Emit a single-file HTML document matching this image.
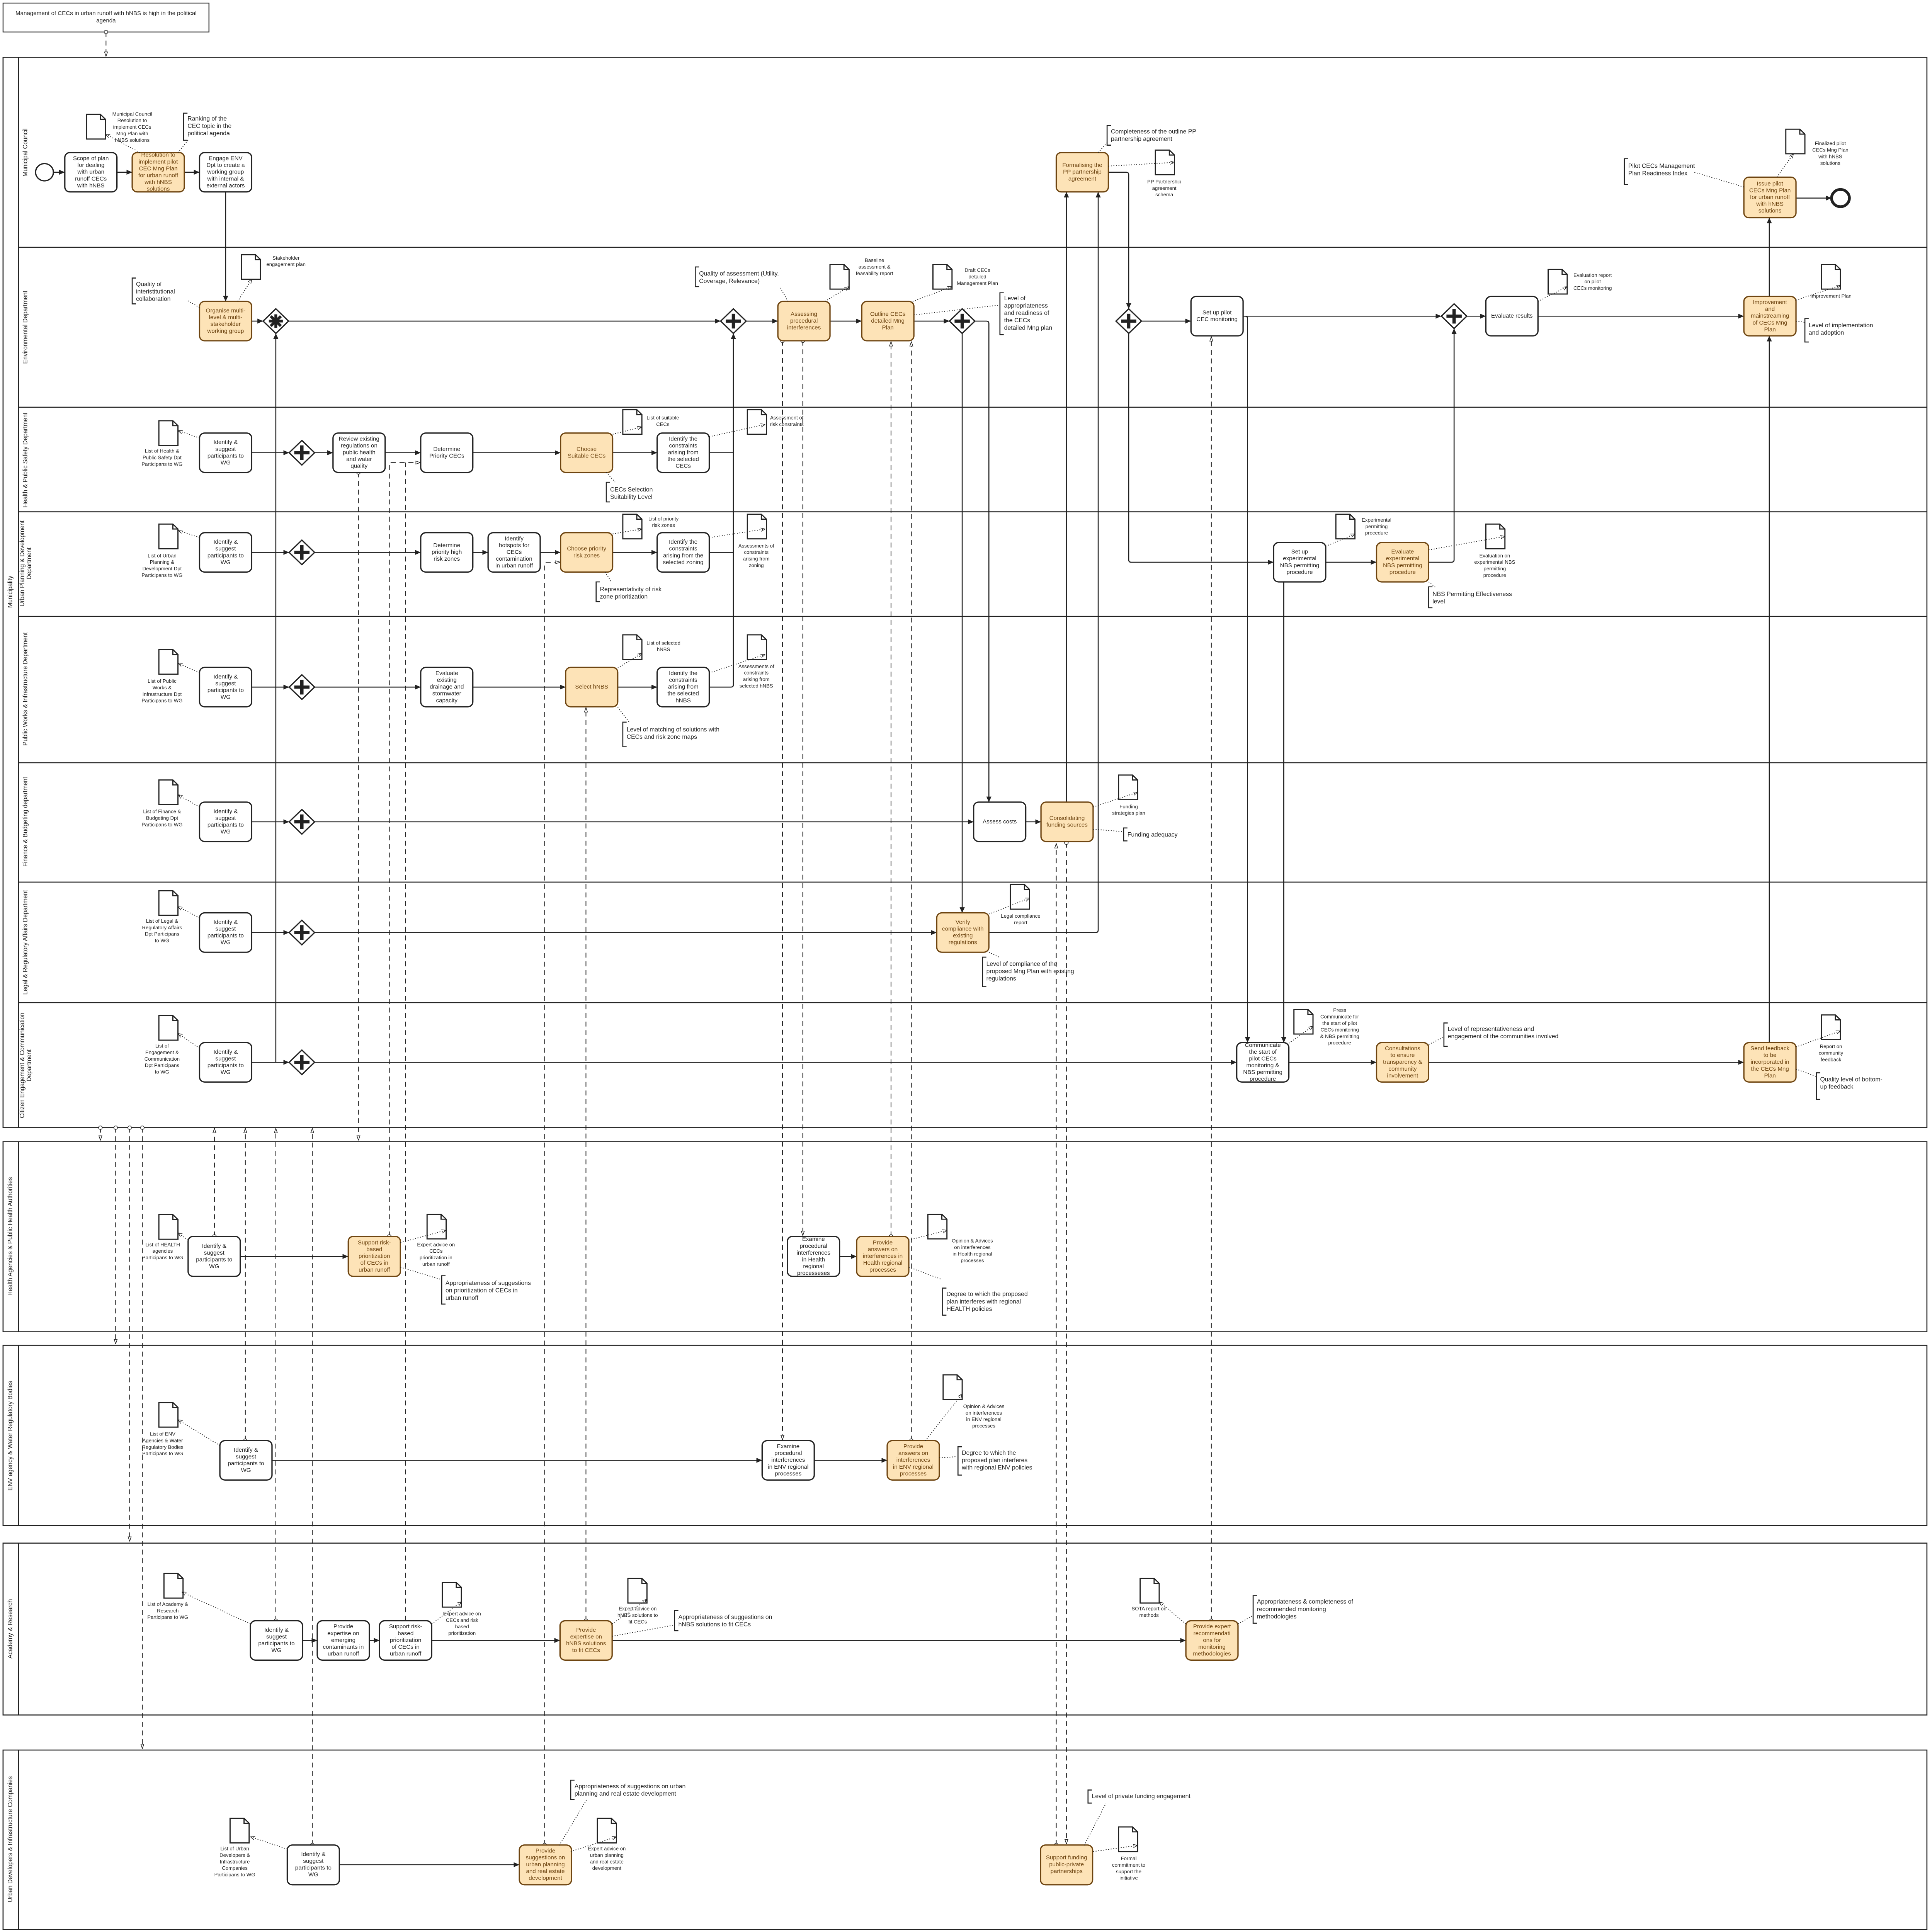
<!DOCTYPE html>
<html><head><meta charset="utf-8">
<style>
html,body{margin:0;padding:0;background:#fff;width:100%;height:100%;overflow:hidden}
svg{display:block;width:100vw;height:100vh}
.w{fill:#fff;stroke:#222;stroke-width:1}
.o{fill:#fde3b7;stroke:#6e4511;stroke-width:1}
.tt{font-family:"Liberation Sans",sans-serif;font-size:4.6px;text-anchor:middle;dominant-baseline:central;fill:#222}
.ot{font-family:"Liberation Sans",sans-serif;font-size:4.6px;text-anchor:middle;dominant-baseline:central;fill:#6e4511}
.f{fill:none;stroke:#222;stroke-width:.8}
.m{fill:none;stroke:#222;stroke-width:.6;stroke-dasharray:4 3}
.d{fill:none;stroke:#222;stroke-width:.6;stroke-dasharray:.7 1.3}
.pl{fill:none;stroke:#222;stroke-width:.8}
.dc{fill:#fff;stroke:#222;stroke-width:.9}
.cap{font-family:"Liberation Sans",sans-serif;font-size:4px;text-anchor:middle;fill:#222}
.an{font-family:"Liberation Sans",sans-serif;font-size:4.8px;fill:#222}
.br{fill:none;stroke:#222;stroke-width:.8}
.ll{font-family:"Liberation Sans",sans-serif;font-size:5px;text-anchor:middle;fill:#222}
.g{fill:#fff;stroke:#222;stroke-width:1}
.gp{stroke:#222;stroke-width:2.6;fill:none}
</style></head><body>
<svg xmlns="http://www.w3.org/2000/svg" viewBox="0 0 1520 1570.4" preserveAspectRatio="none">
<defs>
<marker id="a" viewBox="0 0 10 10" refX="10" refY="5" markerWidth="4.5" markerHeight="4.5" markerUnits="userSpaceOnUse" orient="auto"><path d="M0 0.5L10 5L0 9.5z" fill="#222"/></marker>
<marker id="t" viewBox="0 0 10 10" refX="10" refY="5" markerWidth="4" markerHeight="4" markerUnits="userSpaceOnUse" orient="auto"><path d="M0.5 2L9.5 5L0.5 8z" fill="#fff" stroke="#222" stroke-width="1.2"/></marker>
<marker id="c" viewBox="0 0 10 10" refX="5" refY="5" markerWidth="3.6" markerHeight="3.6" markerUnits="userSpaceOnUse" orient="auto"><circle cx="5" cy="5" r="4" fill="#fff" stroke="#222" stroke-width="1.3"/></marker>
<marker id="v" viewBox="0 0 10 10" refX="10" refY="5" markerWidth="3.5" markerHeight="3.5" markerUnits="userSpaceOnUse" orient="auto"><path d="M0 1L10 5L0 9" fill="none" stroke="#222" stroke-width="1.3"/></marker>
</defs>
<rect x="0" y="0" width="1520" height="1570.4" fill="#fff"/>

<rect x="2.4" y="2.5" width="162" height="23.5" fill="#fff" stroke="#222" stroke-width=".7"/>
<text class="tt" x="83.4" y="11">Management of CECs in urban runoff with hNBS is high in the political</text>
<text class="tt" x="83.4" y="17">agenda</text>
<path class="m" d="M83.4 26V46" marker-start="url(#c)" marker-end="url(#t)"/>

<rect x="2.4" y="46.6" width="1513.6" height="870" fill="none" stroke="#222" stroke-width=".8"/>
<path class="pl" d="M14.5 46.6V916.6M14.5 201H1516M14.5 331H1516M14.5 416H1516M14.5 501H1516M14.5 620H1516M14.5 717H1516M14.5 815H1516"/>
<text class="ll" transform="translate(9.5,481) rotate(-90)">Municipality</text>
<text class="ll" transform="translate(21.5,124) rotate(-90)">Municipal Council</text>
<text class="ll" transform="translate(21.5,266) rotate(-90)">Environmental Department</text>
<text class="ll" transform="translate(21.5,374) rotate(-90)">Health &amp; Public Safety Department</text>
<text class="ll" transform="translate(19,458) rotate(-90)">Urban Planning &amp; Development</text>
<text class="ll" transform="translate(24.5,458) rotate(-90)">Department</text>
<text class="ll" transform="translate(21.5,560) rotate(-90)">Public Works &amp; Infrastructure Department</text>
<text class="ll" transform="translate(21.5,668) rotate(-90)">Finance &amp; Budgeting department</text>
<text class="ll" transform="translate(21.5,766) rotate(-90)">Legal &amp; Regulatory Affairs Department</text>
<text class="ll" transform="translate(19,866) rotate(-90)">Citizen Engagement &amp; Communication</text>
<text class="ll" transform="translate(24.5,866) rotate(-90)">Department</text>

<rect x="2.4" y="928" width="1513.6" height="154.5" fill="none" stroke="#222" stroke-width=".8"/>
<path class="pl" d="M14.5 928V1082.5"/>
<text class="ll" transform="translate(9.5,1005) rotate(-90)">Health Agencies &amp; Public Health Authorities</text>
<rect x="2.4" y="1093.5" width="1513.6" height="146.5" fill="none" stroke="#222" stroke-width=".8"/>
<path class="pl" d="M14.5 1093.5V1240"/>
<text class="ll" transform="translate(9.5,1167) rotate(-90)">ENV agency &amp; Water Regulatory Bodies</text>
<rect x="2.4" y="1254.3" width="1513.6" height="139.7" fill="none" stroke="#222" stroke-width=".8"/>
<path class="pl" d="M14.5 1254.3V1394"/>
<text class="ll" transform="translate(9.5,1324) rotate(-90)">Academy &amp; Research</text>
<rect x="2.4" y="1422.5" width="1513.6" height="145.9" fill="none" stroke="#222" stroke-width=".8"/>
<path class="pl" d="M14.5 1422.5V1568.4"/>
<text class="ll" transform="translate(9.5,1495) rotate(-90)">Urban Developers &amp; Infrastructure Companies</text>

<g class="f">
<path d="M42 140H51" marker-end="url(#a)"/>
<path d="M92 140H104" marker-end="url(#a)"/>
<path d="M145 140H157" marker-end="url(#a)"/>
<path d="M177.5 156V245" marker-end="url(#a)"/>
<path d="M198 261H207" marker-end="url(#a)"/>
<path d="M227 261H567" marker-end="url(#a)"/>
<path d="M587 261H612" marker-end="url(#a)"/>
<path d="M653 261H678" marker-end="url(#a)"/>
<path d="M719 261H747" marker-end="url(#a)"/>
<path d="M757 271V742" marker-end="url(#a)"/>
<path d="M767 261H776Q778 261 778 263V652" marker-end="url(#a)"/>
<path d="M217 863.5V271" marker-end="url(#a)"/>
<path d="M198 368H227.5" marker-end="url(#a)"/>
<path d="M247.5 368H262" marker-end="url(#a)"/>
<path d="M303 368H331" marker-end="url(#a)"/>
<path d="M372 368H441" marker-end="url(#a)"/>
<path d="M482 368H517" marker-end="url(#a)"/>
<path d="M558 368H577"/>
<path d="M198 449H227.5" marker-end="url(#a)"/>
<path d="M247.5 449H331" marker-end="url(#a)"/>
<path d="M372 449H384" marker-end="url(#a)"/>
<path d="M425 449H441" marker-end="url(#a)"/>
<path d="M482 449H517" marker-end="url(#a)"/>
<path d="M558 449H577"/>
<path d="M198 558.5H227.5" marker-end="url(#a)"/>
<path d="M247.5 558.5H331" marker-end="url(#a)"/>
<path d="M372 558.5H445" marker-end="url(#a)"/>
<path d="M486 558.5H517" marker-end="url(#a)"/>
<path d="M558 558.5H575Q577 558.5 577 556.5V271" marker-end="url(#a)"/>
<path d="M198 668H227.5" marker-end="url(#a)"/>
<path d="M247.5 668H766" marker-end="url(#a)"/>
<path d="M807 668H819" marker-end="url(#a)"/>
<path d="M198 758H227.5" marker-end="url(#a)"/>
<path d="M247.5 758H737" marker-end="url(#a)"/>
<path d="M778 758H862Q864 758 864 756V156" marker-end="url(#a)"/>
<path d="M839 652V156" marker-end="url(#a)"/>
<path d="M198 863.5H227.5" marker-end="url(#a)"/>
<path d="M247.5 863.5H973" marker-end="url(#a)"/>
<path d="M1014 863.5H1083" marker-end="url(#a)"/>
<path d="M1124 863.5H1372" marker-end="url(#a)"/>
<path d="M872 140H886Q888 140 888 142V251" marker-end="url(#a)"/>
<path d="M898 261H937" marker-end="url(#a)"/>
<path d="M888 271V455Q888 457 890 457H1002" marker-end="url(#a)"/>
<path d="M978 257H1134" marker-end="url(#a)"/>
<path d="M978 257H979.5Q981.5 257 981.5 259V847.5" marker-end="url(#a)"/>
<path d="M1010 473V847.5" marker-end="url(#a)"/>
<path d="M1043 457H1083" marker-end="url(#a)"/>
<path d="M1124 457H1142Q1144 457 1144 455V267" marker-end="url(#a)"/>
<path d="M1154 257H1169" marker-end="url(#a)"/>
<path d="M1210 257H1372" marker-end="url(#a)"/>
<path d="M1392 847.5V273" marker-end="url(#a)"/>
<path d="M1392 241V177" marker-end="url(#a)"/>
<path d="M1413 161H1441" marker-end="url(#a)"/>
<path d="M189 1021.3H274" marker-end="url(#a)"/>
<path d="M660 1021.3H674" marker-end="url(#a)"/>
<path d="M214 1187H599.6" marker-end="url(#a)"/>
<path d="M640.6 1187H698" marker-end="url(#a)"/>
<path d="M238 1333.4H249.6" marker-end="url(#a)"/>
<path d="M290.6 1333.4H298.6" marker-end="url(#a)"/>
<path d="M339.6 1333.4H440.6" marker-end="url(#a)"/>
<path d="M481.6 1333.4H933" marker-end="url(#a)"/>
<path d="M267 1515.7H408.6" marker-end="url(#a)"/>
</g>

<g class="m">
<path d="M79 916.6V927" marker-start="url(#c)" marker-end="url(#t)"/>
<path d="M91 916.6V1092.5" marker-start="url(#c)" marker-end="url(#t)"/>
<path d="M102 916.6V1253" marker-start="url(#c)" marker-end="url(#t)"/>
<path d="M112 916.6V1421.5" marker-start="url(#c)" marker-end="url(#t)"/>
<path d="M168.7 1005V917" marker-start="url(#c)" marker-end="url(#t)"/>
<path d="M193 1171V917" marker-start="url(#c)" marker-end="url(#t)"/>
<path d="M217 1317.4V917" marker-start="url(#c)" marker-end="url(#t)"/>
<path d="M245.7 1499.7V917" marker-start="url(#c)" marker-end="url(#t)"/>
<path d="M282 384V927" marker-start="url(#c)" marker-end="url(#t)"/>
<path d="M306.3 1005V376H331" marker-start="url(#c)" marker-end="url(#t)"/>
<path d="M319 1317.4V376"/>
<path d="M428.5 1499.7V458Q428.5 457 430 457H441" marker-start="url(#c)" marker-end="url(#t)"/>
<path d="M461 1317.4V575" marker-start="url(#c)" marker-end="url(#t)"/>
<path d="M615.6 277V1170.5" marker-start="url(#c)" marker-end="url(#t)"/>
<path d="M631.6 277V1004.5" marker-start="url(#c)" marker-end="url(#t)"/>
<path d="M701 1005V277.5" marker-start="url(#c)" marker-end="url(#t)"/>
<path d="M717 1171V277.5" marker-start="url(#c)" marker-end="url(#t)"/>
<path d="M839 685V1499" marker-start="url(#c)" marker-end="url(#t)"/>
<path d="M831 1499.7V685.5" marker-start="url(#c)" marker-end="url(#t)"/>
<path d="M953 1317.4V273.5" marker-start="url(#c)" marker-end="url(#t)"/>
</g>

<circle cx="35" cy="140" r="7" fill="#fff" stroke="#222" stroke-width="1"/>
<circle cx="1448" cy="161" r="7" fill="#fff" stroke="#222" stroke-width="2.2"/>

<g>
<g transform="translate(217,261)"><path class="g" d="M0-10L10 0 0 10-10 0Z"/><path d="M0-5.5V5.5M-5.5 0H5.5M-4-4L4 4M-4 4L4-4" stroke="#222" stroke-width="2.2"/></g>
<g transform="translate(577,261)"><path class="g" d="M0-10L10 0 0 10-10 0Z"/><path class="gp" d="M0-6V6M-6 0H6"/></g>
<g transform="translate(757,261)"><path class="g" d="M0-10L10 0 0 10-10 0Z"/><path class="gp" d="M0-6V6M-6 0H6"/></g>
<g transform="translate(888,261)"><path class="g" d="M0-10L10 0 0 10-10 0Z"/><path class="gp" d="M0-6V6M-6 0H6"/></g>
<g transform="translate(1144,257)"><path class="g" d="M0-10L10 0 0 10-10 0Z"/><path class="gp" d="M0-6V6M-6 0H6"/></g>
<g transform="translate(237.5,368)"><path class="g" d="M0-10L10 0 0 10-10 0Z"/><path class="gp" d="M0-6V6M-6 0H6"/></g>
<g transform="translate(237.5,449)"><path class="g" d="M0-10L10 0 0 10-10 0Z"/><path class="gp" d="M0-6V6M-6 0H6"/></g>
<g transform="translate(237.5,558.5)"><path class="g" d="M0-10L10 0 0 10-10 0Z"/><path class="gp" d="M0-6V6M-6 0H6"/></g>
<g transform="translate(237.5,668)"><path class="g" d="M0-10L10 0 0 10-10 0Z"/><path class="gp" d="M0-6V6M-6 0H6"/></g>
<g transform="translate(237.5,758)"><path class="g" d="M0-10L10 0 0 10-10 0Z"/><path class="gp" d="M0-6V6M-6 0H6"/></g>
<g transform="translate(237.5,863.5)"><path class="g" d="M0-10L10 0 0 10-10 0Z"/><path class="gp" d="M0-6V6M-6 0H6"/></g>
</g>

<rect class="w" x="51" y="124" width="41" height="32" rx="4"/>
<text class="tt" x="71.5" y="140"><tspan x="71.5" dy="-2.4em">Scope of plan</tspan><tspan x="71.5" dy="1.2em">for dealing</tspan><tspan x="71.5" dy="1.2em">with urban</tspan><tspan x="71.5" dy="1.2em">runoff CECs</tspan><tspan x="71.5" dy="1.2em">with hNBS</tspan></text>
<rect class="o" x="104" y="124" width="41" height="32" rx="4"/>
<text class="ot" x="124.5" y="140"><tspan x="124.5" dy="-3em">Resolution to</tspan><tspan x="124.5" dy="1.2em">implement pilot</tspan><tspan x="124.5" dy="1.2em">CEC Mng Plan</tspan><tspan x="124.5" dy="1.2em">for urban runoff</tspan><tspan x="124.5" dy="1.2em">with hNBS</tspan><tspan x="124.5" dy="1.2em">solutions</tspan></text>
<rect class="w" x="157" y="124" width="41" height="32" rx="4"/>
<text class="tt" x="177.5" y="140"><tspan x="177.5" dy="-2.4em">Engage ENV</tspan><tspan x="177.5" dy="1.2em">Dpt to create a</tspan><tspan x="177.5" dy="1.2em">working group</tspan><tspan x="177.5" dy="1.2em">with internal &amp;</tspan><tspan x="177.5" dy="1.2em">external actors</tspan></text>
<rect class="o" x="831" y="124" width="41" height="32" rx="4"/>
<text class="ot" x="851.5" y="140"><tspan x="851.5" dy="-1.2em">Formalising the</tspan><tspan x="851.5" dy="1.2em">PP partnership</tspan><tspan x="851.5" dy="1.2em">agreement</tspan></text>
<rect class="o" x="1372" y="144" width="41" height="33" rx="4"/>
<text class="ot" x="1392.5" y="160.5"><tspan x="1392.5" dy="-2.4em">Issue pilot</tspan><tspan x="1392.5" dy="1.2em">CECs Mng Plan</tspan><tspan x="1392.5" dy="1.2em">for urban runoff</tspan><tspan x="1392.5" dy="1.2em">with hNBS</tspan><tspan x="1392.5" dy="1.2em">solutions</tspan></text>

<rect class="o" x="157" y="245" width="41" height="32" rx="4"/>
<text class="ot" x="177.5" y="261"><tspan x="177.5" dy="-1.8em">Organise multi-</tspan><tspan x="177.5" dy="1.2em">level &amp; multi-</tspan><tspan x="177.5" dy="1.2em">stakeholder</tspan><tspan x="177.5" dy="1.2em">working group</tspan></text>
<rect class="o" x="612" y="245" width="41" height="32" rx="4"/>
<text class="ot" x="632.5" y="261"><tspan x="632.5" dy="-1.2em">Assessing</tspan><tspan x="632.5" dy="1.2em">procedural</tspan><tspan x="632.5" dy="1.2em">interferences</tspan></text>
<rect class="o" x="678" y="245" width="41" height="32" rx="4"/>
<text class="ot" x="698.5" y="261"><tspan x="698.5" dy="-1.2em">Outline CECs</tspan><tspan x="698.5" dy="1.2em">detailed Mng</tspan><tspan x="698.5" dy="1.2em">Plan</tspan></text>
<rect class="w" x="937" y="241" width="41" height="32" rx="4"/>
<text class="tt" x="957.5" y="257"><tspan x="957.5" dy="-0.6em">Set up pilot</tspan><tspan x="957.5" dy="1.2em">CEC monitoring</tspan></text>
<rect class="w" x="1169" y="241" width="41" height="32" rx="4"/>
<text class="tt" x="1189.5" y="257">Evaluate results</text>
<rect class="o" x="1372" y="241" width="41" height="32" rx="4"/>
<text class="ot" x="1392.5" y="257"><tspan x="1392.5" dy="-2.4em">Improvement</tspan><tspan x="1392.5" dy="1.2em">and</tspan><tspan x="1392.5" dy="1.2em">mainstreaming</tspan><tspan x="1392.5" dy="1.2em">of CECs Mng</tspan><tspan x="1392.5" dy="1.2em">Plan</tspan></text>

<g>
<rect class="w" x="157" y="352" width="41" height="32" rx="4"/>
<text class="tt" x="177.5" y="368"><tspan x="177.5" dy="-1.8em">Identify &amp;</tspan><tspan x="177.5" dy="1.2em">suggest</tspan><tspan x="177.5" dy="1.2em">participants to</tspan><tspan x="177.5" dy="1.2em">WG</tspan></text>
<rect class="w" x="157" y="433" width="41" height="32" rx="4"/>
<text class="tt" x="177.5" y="449"><tspan x="177.5" dy="-1.8em">Identify &amp;</tspan><tspan x="177.5" dy="1.2em">suggest</tspan><tspan x="177.5" dy="1.2em">participants to</tspan><tspan x="177.5" dy="1.2em">WG</tspan></text>
<rect class="w" x="157" y="542.5" width="41" height="32" rx="4"/>
<text class="tt" x="177.5" y="558.5"><tspan x="177.5" dy="-1.8em">Identify &amp;</tspan><tspan x="177.5" dy="1.2em">suggest</tspan><tspan x="177.5" dy="1.2em">participants to</tspan><tspan x="177.5" dy="1.2em">WG</tspan></text>
<rect class="w" x="157" y="652" width="41" height="32" rx="4"/>
<text class="tt" x="177.5" y="668"><tspan x="177.5" dy="-1.8em">Identify &amp;</tspan><tspan x="177.5" dy="1.2em">suggest</tspan><tspan x="177.5" dy="1.2em">participants to</tspan><tspan x="177.5" dy="1.2em">WG</tspan></text>
<rect class="w" x="157" y="742" width="41" height="32" rx="4"/>
<text class="tt" x="177.5" y="758"><tspan x="177.5" dy="-1.8em">Identify &amp;</tspan><tspan x="177.5" dy="1.2em">suggest</tspan><tspan x="177.5" dy="1.2em">participants to</tspan><tspan x="177.5" dy="1.2em">WG</tspan></text>
<rect class="w" x="157" y="847.5" width="41" height="32" rx="4"/>
<text class="tt" x="177.5" y="863.5"><tspan x="177.5" dy="-1.8em">Identify &amp;</tspan><tspan x="177.5" dy="1.2em">suggest</tspan><tspan x="177.5" dy="1.2em">participants to</tspan><tspan x="177.5" dy="1.2em">WG</tspan></text>
</g>

<rect class="w" x="262" y="352" width="41" height="32" rx="4"/>
<text class="tt" x="282.5" y="368"><tspan x="282.5" dy="-2.4em">Review existing</tspan><tspan x="282.5" dy="1.2em">regulations on</tspan><tspan x="282.5" dy="1.2em">public health</tspan><tspan x="282.5" dy="1.2em">and water</tspan><tspan x="282.5" dy="1.2em">quality</tspan></text>
<rect class="w" x="331" y="352" width="41" height="32" rx="4"/>
<text class="tt" x="351.5" y="368"><tspan x="351.5" dy="-0.6em">Determine</tspan><tspan x="351.5" dy="1.2em">Priority CECs</tspan></text>
<rect class="o" x="441" y="352" width="41" height="32" rx="4"/>
<text class="ot" x="461.5" y="368"><tspan x="461.5" dy="-0.6em">Choose</tspan><tspan x="461.5" dy="1.2em">Suitable CECs</tspan></text>
<rect class="w" x="517" y="352" width="41" height="32" rx="4"/>
<text class="tt" x="537.5" y="368"><tspan x="537.5" dy="-2.4em">Identify the</tspan><tspan x="537.5" dy="1.2em">constraints</tspan><tspan x="537.5" dy="1.2em">arising from</tspan><tspan x="537.5" dy="1.2em">the selected</tspan><tspan x="537.5" dy="1.2em">CECs</tspan></text>

<rect class="w" x="331" y="433" width="41" height="32" rx="4"/>
<text class="tt" x="351.5" y="449"><tspan x="351.5" dy="-1.2em">Determine</tspan><tspan x="351.5" dy="1.2em">priority high</tspan><tspan x="351.5" dy="1.2em">risk zones</tspan></text>
<rect class="w" x="384" y="433" width="41" height="32" rx="4"/>
<text class="tt" x="404.5" y="449"><tspan x="404.5" dy="-2.4em">Identify</tspan><tspan x="404.5" dy="1.2em">hotspots for</tspan><tspan x="404.5" dy="1.2em">CECs</tspan><tspan x="404.5" dy="1.2em">contamination</tspan><tspan x="404.5" dy="1.2em">in urban runoff</tspan></text>
<rect class="o" x="441" y="433" width="41" height="32" rx="4"/>
<text class="ot" x="461.5" y="449"><tspan x="461.5" dy="-0.6em">Choose priority</tspan><tspan x="461.5" dy="1.2em">risk zones</tspan></text>
<rect class="w" x="517" y="433" width="41" height="32" rx="4"/>
<text class="tt" x="537.5" y="449"><tspan x="537.5" dy="-1.8em">Identify the</tspan><tspan x="537.5" dy="1.2em">constraints</tspan><tspan x="537.5" dy="1.2em">arising from the</tspan><tspan x="537.5" dy="1.2em">selected zoning</tspan></text>
<rect class="w" x="1002" y="441" width="41" height="32" rx="4"/>
<text class="tt" x="1022.5" y="457"><tspan x="1022.5" dy="-1.8em">Set up</tspan><tspan x="1022.5" dy="1.2em">experimental</tspan><tspan x="1022.5" dy="1.2em">NBS permitting</tspan><tspan x="1022.5" dy="1.2em">procedure</tspan></text>
<rect class="o" x="1083" y="441" width="41" height="32" rx="4"/>
<text class="ot" x="1103.5" y="457"><tspan x="1103.5" dy="-1.8em">Evaluate</tspan><tspan x="1103.5" dy="1.2em">experimental</tspan><tspan x="1103.5" dy="1.2em">NBS permitting</tspan><tspan x="1103.5" dy="1.2em">procedure</tspan></text>

<rect class="w" x="331" y="542.5" width="41" height="32" rx="4"/>
<text class="tt" x="351.5" y="558.5"><tspan x="351.5" dy="-2.4em">Evaluate</tspan><tspan x="351.5" dy="1.2em">existing</tspan><tspan x="351.5" dy="1.2em">drainage and</tspan><tspan x="351.5" dy="1.2em">stormwater</tspan><tspan x="351.5" dy="1.2em">capacity</tspan></text>
<rect class="o" x="445" y="542.5" width="41" height="32" rx="4"/>
<text class="ot" x="465.5" y="558.5">Select hNBS</text>
<rect class="w" x="517" y="542.5" width="41" height="32" rx="4"/>
<text class="tt" x="537.5" y="558.5"><tspan x="537.5" dy="-2.4em">Identify the</tspan><tspan x="537.5" dy="1.2em">constraints</tspan><tspan x="537.5" dy="1.2em">arising from</tspan><tspan x="537.5" dy="1.2em">the selected</tspan><tspan x="537.5" dy="1.2em">hNBS</tspan></text>

<rect class="w" x="766" y="652" width="41" height="32" rx="4"/>
<text class="tt" x="786.5" y="668">Assess costs</text>
<rect class="o" x="819" y="652" width="41" height="32" rx="4"/>
<text class="ot" x="839.5" y="668"><tspan x="839.5" dy="-0.6em">Consolidating</tspan><tspan x="839.5" dy="1.2em">funding sources</tspan></text>

<rect class="o" x="737" y="742" width="41" height="32" rx="4"/>
<text class="ot" x="757.5" y="758"><tspan x="757.5" dy="-1.8em">Verify</tspan><tspan x="757.5" dy="1.2em">compliance with</tspan><tspan x="757.5" dy="1.2em">existing</tspan><tspan x="757.5" dy="1.2em">regulations</tspan></text>

<rect class="w" x="973" y="847.5" width="41" height="32" rx="4"/>
<text class="tt" x="993.5" y="863.5"><tspan x="993.5" dy="-3em">Communicate</tspan><tspan x="993.5" dy="1.2em">the start of</tspan><tspan x="993.5" dy="1.2em">pilot CECs</tspan><tspan x="993.5" dy="1.2em">monitoring &amp;</tspan><tspan x="993.5" dy="1.2em">NBS permitting</tspan><tspan x="993.5" dy="1.2em">procedure</tspan></text>
<rect class="o" x="1083" y="847.5" width="41" height="32" rx="4"/>
<text class="ot" x="1103.5" y="863.5"><tspan x="1103.5" dy="-2.4em">Consultations</tspan><tspan x="1103.5" dy="1.2em">to ensure</tspan><tspan x="1103.5" dy="1.2em">transparency &amp;</tspan><tspan x="1103.5" dy="1.2em">community</tspan><tspan x="1103.5" dy="1.2em">involvement</tspan></text>
<rect class="o" x="1372" y="847.5" width="41" height="32" rx="4"/>
<text class="ot" x="1392.5" y="863.5"><tspan x="1392.5" dy="-2.4em">Send feedback</tspan><tspan x="1392.5" dy="1.2em">to be</tspan><tspan x="1392.5" dy="1.2em">incorporated in</tspan><tspan x="1392.5" dy="1.2em">the CECs Mng</tspan><tspan x="1392.5" dy="1.2em">Plan</tspan></text>

<rect class="w" x="148" y="1005" width="41" height="32.5" rx="4"/>
<text class="tt" x="168.5" y="1021.3"><tspan x="168.5" dy="-1.8em">Identify &amp;</tspan><tspan x="168.5" dy="1.2em">suggest</tspan><tspan x="168.5" dy="1.2em">participants to</tspan><tspan x="168.5" dy="1.2em">WG</tspan></text>
<rect class="o" x="274" y="1005" width="41" height="32.5" rx="4"/>
<text class="ot" x="294.5" y="1021.3"><tspan x="294.5" dy="-2.4em">Support risk-</tspan><tspan x="294.5" dy="1.2em">based</tspan><tspan x="294.5" dy="1.2em">prioritization</tspan><tspan x="294.5" dy="1.2em">of CECs in</tspan><tspan x="294.5" dy="1.2em">urban runoff</tspan></text>
<rect class="w" x="619.5" y="1005" width="41" height="32.5" rx="4"/>
<text class="tt" x="640" y="1021.3"><tspan x="640" dy="-3em">Examine</tspan><tspan x="640" dy="1.2em">procedural</tspan><tspan x="640" dy="1.2em">interferences</tspan><tspan x="640" dy="1.2em">in Health</tspan><tspan x="640" dy="1.2em">regional</tspan><tspan x="640" dy="1.2em">processeses</tspan></text>
<rect class="o" x="674" y="1005" width="41" height="32.5" rx="4"/>
<text class="ot" x="694.5" y="1021.3"><tspan x="694.5" dy="-2.4em">Provide</tspan><tspan x="694.5" dy="1.2em">answers on</tspan><tspan x="694.5" dy="1.2em">interferences in</tspan><tspan x="694.5" dy="1.2em">Health regional</tspan><tspan x="694.5" dy="1.2em">processes</tspan></text>

<rect class="w" x="173" y="1171" width="41" height="32" rx="4"/>
<text class="tt" x="193.5" y="1187"><tspan x="193.5" dy="-1.8em">Identify &amp;</tspan><tspan x="193.5" dy="1.2em">suggest</tspan><tspan x="193.5" dy="1.2em">participants to</tspan><tspan x="193.5" dy="1.2em">WG</tspan></text>
<rect class="w" x="599.6" y="1171" width="41" height="32" rx="4"/>
<text class="tt" x="620.1" y="1187"><tspan x="620.1" dy="-2.4em">Examine</tspan><tspan x="620.1" dy="1.2em">procedural</tspan><tspan x="620.1" dy="1.2em">interferences</tspan><tspan x="620.1" dy="1.2em">in ENV regional</tspan><tspan x="620.1" dy="1.2em">processes</tspan></text>
<rect class="o" x="698" y="1171" width="41" height="32" rx="4"/>
<text class="ot" x="718.5" y="1187"><tspan x="718.5" dy="-2.4em">Provide</tspan><tspan x="718.5" dy="1.2em">answers on</tspan><tspan x="718.5" dy="1.2em">interferences</tspan><tspan x="718.5" dy="1.2em">in ENV regional</tspan><tspan x="718.5" dy="1.2em">processes</tspan></text>

<rect class="w" x="197" y="1317.4" width="41" height="32" rx="4"/>
<text class="tt" x="217.5" y="1333.4"><tspan x="217.5" dy="-1.8em">Identify &amp;</tspan><tspan x="217.5" dy="1.2em">suggest</tspan><tspan x="217.5" dy="1.2em">participants to</tspan><tspan x="217.5" dy="1.2em">WG</tspan></text>
<rect class="w" x="249.6" y="1317.4" width="41" height="32" rx="4"/>
<text class="tt" x="270.1" y="1333.4"><tspan x="270.1" dy="-2.4em">Provide</tspan><tspan x="270.1" dy="1.2em">expertise on</tspan><tspan x="270.1" dy="1.2em">emerging</tspan><tspan x="270.1" dy="1.2em">contaminants in</tspan><tspan x="270.1" dy="1.2em">urban runoff</tspan></text>
<rect class="w" x="298.6" y="1317.4" width="41" height="32" rx="4"/>
<text class="tt" x="319.1" y="1333.4"><tspan x="319.1" dy="-2.4em">Support risk-</tspan><tspan x="319.1" dy="1.2em">based</tspan><tspan x="319.1" dy="1.2em">prioritization</tspan><tspan x="319.1" dy="1.2em">of CECs in</tspan><tspan x="319.1" dy="1.2em">urban runoff</tspan></text>
<rect class="o" x="440.6" y="1317.4" width="41" height="32" rx="4"/>
<text class="ot" x="461.1" y="1333.4"><tspan x="461.1" dy="-1.8em">Provide</tspan><tspan x="461.1" dy="1.2em">expertise on</tspan><tspan x="461.1" dy="1.2em">hNBS solutions</tspan><tspan x="461.1" dy="1.2em">to fit CECs</tspan></text>
<rect class="o" x="933" y="1317.4" width="41" height="32" rx="4"/>
<text class="ot" x="953.5" y="1333.4"><tspan x="953.5" dy="-2.4em">Provide expert</tspan><tspan x="953.5" dy="1.2em">recommendati</tspan><tspan x="953.5" dy="1.2em">ons for</tspan><tspan x="953.5" dy="1.2em">monitoring</tspan><tspan x="953.5" dy="1.2em">methodologies</tspan></text>

<rect class="w" x="226" y="1499.7" width="41" height="32.3" rx="4"/>
<text class="tt" x="246.5" y="1515.7"><tspan x="246.5" dy="-1.8em">Identify &amp;</tspan><tspan x="246.5" dy="1.2em">suggest</tspan><tspan x="246.5" dy="1.2em">participants to</tspan><tspan x="246.5" dy="1.2em">WG</tspan></text>
<rect class="o" x="408.6" y="1499.7" width="41" height="32.3" rx="4"/>
<text class="ot" x="429.1" y="1515.7"><tspan x="429.1" dy="-2.4em">Provide</tspan><tspan x="429.1" dy="1.2em">suggestions on</tspan><tspan x="429.1" dy="1.2em">urban planning</tspan><tspan x="429.1" dy="1.2em">and real estate</tspan><tspan x="429.1" dy="1.2em">development</tspan></text>
<rect class="o" x="818.6" y="1499.7" width="41" height="32.3" rx="4"/>
<text class="ot" x="839.1" y="1515.7"><tspan x="839.1" dy="-1.2em">Support funding</tspan><tspan x="839.1" dy="1.2em">public-private</tspan><tspan x="839.1" dy="1.2em">partnerships</tspan></text>

<g class="dc">
<path d="M68 93h11l4 4v16h-15zM79 93v4h4"/>
<path d="M190 207h11l4 4v16h-15zM201 207v4h4"/>
<path d="M653 215h11l4 4v16h-15zM664 215v4h4"/>
<path d="M734 215h11l4 4v16h-15zM745 215v4h4"/>
<path d="M125 342h11l4 4v16h-15zM136 342v4h4"/>
<path d="M490 333h11l4 4v16h-15zM501 333v4h4"/>
<path d="M588 333h11l4 4v16h-15zM599 333v4h4"/>
<path d="M125 426h11l4 4v16h-15zM136 426v4h4"/>
<path d="M490 418h11l4 4v16h-15zM501 418v4h4"/>
<path d="M588 418h11l4 4v16h-15zM599 418v4h4"/>
<path d="M125 528h11l4 4v16h-15zM136 528v4h4"/>
<path d="M490 516h11l4 4v16h-15zM501 516v4h4"/>
<path d="M588 516h11l4 4v16h-15zM599 516v4h4"/>
<path d="M125 634h11l4 4v16h-15zM136 634v4h4"/>
<path d="M125 724h11l4 4v16h-15zM136 724v4h4"/>
<path d="M125 825.5h11l4 4v16h-15zM136 825.5v4h4"/>
<path d="M909 122h11l4 4v16h-15zM920 122v4h4"/>
<path d="M1405 105h11l4 4v16h-15zM1416 105v4h4"/>
<path d="M1218 219h11l4 4v16h-15zM1229 219v4h4"/>
<path d="M1433 215h11l4 4v16h-15zM1444 215v4h4"/>
<path d="M1051 418h11l4 4v16h-15zM1062 418v4h4"/>
<path d="M1169 426h11l4 4v16h-15zM1180 426v4h4"/>
<path d="M880 630h11l4 4v16h-15zM891 630v4h4"/>
<path d="M795 719h11l4 4v16h-15zM806 719v4h4"/>
<path d="M1018 820.5h11l4 4v16h-15zM1029 820.5v4h4"/>
<path d="M1433 825h11l4 4v16h-15zM1444 825v4h4"/>
<path d="M125 987.3h11l4 4v16h-15zM136 987.3v4h4"/>
<path d="M336 987h11l4 4v16h-15zM347 987v4h4"/>
<path d="M730 987h11l4 4v16h-15zM741 987v4h4"/>
<path d="M125 1140h11l4 4v16h-15zM136 1140v4h4"/>
<path d="M742 1117.5h11l4 4v16h-15zM753 1117.5v4h4"/>
<path d="M129 1279h11l4 4v16h-15zM140 1279v4h4"/>
<path d="M348 1286.3h11l4 4v16h-15zM359 1286.3v4h4"/>
<path d="M494 1283h11l4 4v16h-15zM505 1283v4h4"/>
<path d="M897 1283h11l4 4v16h-15zM908 1283v4h4"/>
<path d="M181 1478h11l4 4v16h-15zM192 1478v4h4"/>
<path d="M470 1478h11l4 4v16h-15zM481 1478v4h4"/>
<path d="M880 1485h11l4 4v16h-15zM891 1485v4h4"/>
</g>

<g class="cap">
<text x="104" y="94"><tspan x="104">Municipal Council</tspan><tspan x="104" dy="5.3">Resolution to</tspan><tspan x="104" dy="5.3">implement CECs</tspan><tspan x="104" dy="5.3">Mng Plan with</tspan><tspan x="104" dy="5.3">hNBS solutions</tspan></text>
<text x="225" y="211"><tspan x="225">Stakeholder</tspan><tspan x="225" dy="5.3">engagement plan</tspan></text>
<text x="688" y="213"><tspan x="688">Baseline</tspan><tspan x="688" dy="5.3">assessment &amp;</tspan><tspan x="688" dy="5.3">feasability report</tspan></text>
<text x="769" y="221"><tspan x="769">Draft CECs</tspan><tspan x="769" dy="5.3">detailed</tspan><tspan x="769" dy="5.3">Management Plan</tspan></text>
<text x="127.5" y="368"><tspan x="127.5">List of Health &amp;</tspan><tspan x="127.5" dy="5.3">Public Safety Dpt</tspan><tspan x="127.5" dy="5.3">Participans to WG</tspan></text>
<text x="521.5" y="341"><tspan x="521.5">List of suitable</tspan><tspan x="521.5" dy="5.3">CECs</tspan></text>
<text x="619" y="341"><tspan x="619">Assessment of</tspan><tspan x="619" dy="5.3">risk constraints</tspan></text>
<text x="127.5" y="453"><tspan x="127.5">List of Urban</tspan><tspan x="127.5" dy="5.3">Planning &amp;</tspan><tspan x="127.5" dy="5.3">Development Dpt</tspan><tspan x="127.5" dy="5.3">Participans to WG</tspan></text>
<text x="522" y="423"><tspan x="522">List of priority</tspan><tspan x="522" dy="5.3">risk zones</tspan></text>
<text x="595" y="445"><tspan x="595">Assessments of</tspan><tspan x="595" dy="5.3">constraints</tspan><tspan x="595" dy="5.3">arising from</tspan><tspan x="595" dy="5.3">zoning</tspan></text>
<text x="127.5" y="555"><tspan x="127.5">List of Public</tspan><tspan x="127.5" dy="5.3">Works &amp;</tspan><tspan x="127.5" dy="5.3">Infrastructure Dpt</tspan><tspan x="127.5" dy="5.3">Participans to WG</tspan></text>
<text x="522" y="524"><tspan x="522">List of selected</tspan><tspan x="522" dy="5.3">hNBS</tspan></text>
<text x="595" y="543"><tspan x="595">Assessments of</tspan><tspan x="595" dy="5.3">constraints</tspan><tspan x="595" dy="5.3">arising from</tspan><tspan x="595" dy="5.3">selected hNBS</tspan></text>
<text x="127.5" y="661"><tspan x="127.5">List of Finance &amp;</tspan><tspan x="127.5" dy="5.3">Budgeting Dpt</tspan><tspan x="127.5" dy="5.3">Participans to WG</tspan></text>
<text x="127.5" y="750"><tspan x="127.5">List of Legal &amp;</tspan><tspan x="127.5" dy="5.3">Regulatory Affairs</tspan><tspan x="127.5" dy="5.3">Dpt Participans</tspan><tspan x="127.5" dy="5.3">to WG</tspan></text>
<text x="127.5" y="851.5"><tspan x="127.5">List of</tspan><tspan x="127.5" dy="5.3">Engagement &amp;</tspan><tspan x="127.5" dy="5.3">Communication</tspan><tspan x="127.5" dy="5.3">Dpt Participans</tspan><tspan x="127.5" dy="5.3">to WG</tspan></text>
<text x="916" y="149"><tspan x="916">PP Partnership</tspan><tspan x="916" dy="5.3">agreement</tspan><tspan x="916" dy="5.3">schema</tspan></text>
<text x="1440" y="118"><tspan x="1440">Finalized pilot</tspan><tspan x="1440" dy="5.3">CECs Mng Plan</tspan><tspan x="1440" dy="5.3">with hNBS</tspan><tspan x="1440" dy="5.3">solutions</tspan></text>
<text x="1253" y="225"><tspan x="1253">Evaluation report</tspan><tspan x="1253" dy="5.3">on pilot</tspan><tspan x="1253" dy="5.3">CECs monitoring</tspan></text>
<text x="1440.5" y="242">Improvement Plan</text>
<text x="1083" y="424"><tspan x="1083">Experimental</tspan><tspan x="1083" dy="5.3">permitting</tspan><tspan x="1083" dy="5.3">procedure</tspan></text>
<text x="1176" y="453"><tspan x="1176">Evaluation on</tspan><tspan x="1176" dy="5.3">experimental NBS</tspan><tspan x="1176" dy="5.3">permitting</tspan><tspan x="1176" dy="5.3">procedure</tspan></text>
<text x="888" y="657"><tspan x="888">Funding</tspan><tspan x="888" dy="5.3">strategies plan</tspan></text>
<text x="803" y="746"><tspan x="803">Legal compliance</tspan><tspan x="803" dy="5.3">report</tspan></text>
<text x="1054" y="822.5"><tspan x="1054">Press</tspan><tspan x="1054" dy="5.3">Communicate for</tspan><tspan x="1054" dy="5.3">the start of pilot</tspan><tspan x="1054" dy="5.3">CECs monitoring</tspan><tspan x="1054" dy="5.3">&amp; NBS permitting</tspan><tspan x="1054" dy="5.3">procedure</tspan></text>
<text x="1440.5" y="852"><tspan x="1440.5">Report on</tspan><tspan x="1440.5" dy="5.3">community</tspan><tspan x="1440.5" dy="5.3">feedback</tspan></text>
<text x="128" y="1013"><tspan x="128">List of HEALTH</tspan><tspan x="128" dy="5.3">agencies</tspan><tspan x="128" dy="5.3">Participans to WG</tspan></text>
<text x="343" y="1013"><tspan x="343">Expert advice on</tspan><tspan x="343" dy="5.3">CECs</tspan><tspan x="343" dy="5.3">prioritization in</tspan><tspan x="343" dy="5.3">urban runoff</tspan></text>
<text x="765" y="1010"><tspan x="765">Opinion &amp; Advices</tspan><tspan x="765" dy="5.3">on interferences</tspan><tspan x="765" dy="5.3">in Health regional</tspan><tspan x="765" dy="5.3">processes</tspan></text>
<text x="128" y="1167"><tspan x="128">List of ENV</tspan><tspan x="128" dy="5.3">Agencies &amp; Water</tspan><tspan x="128" dy="5.3">Regulatory Bodies</tspan><tspan x="128" dy="5.3">Participans to WG</tspan></text>
<text x="774" y="1144.5"><tspan x="774">Opinion &amp; Advices</tspan><tspan x="774" dy="5.3">on interferences</tspan><tspan x="774" dy="5.3">in ENV regional</tspan><tspan x="774" dy="5.3">processes</tspan></text>
<text x="132" y="1305.3"><tspan x="132">List of Academy &amp;</tspan><tspan x="132" dy="5.3">Research</tspan><tspan x="132" dy="5.3">Participans to WG</tspan></text>
<text x="363.5" y="1313"><tspan x="363.5">Expert advice on</tspan><tspan x="363.5" dy="5.3">CECs and risk</tspan><tspan x="363.5" dy="5.3">based</tspan><tspan x="363.5" dy="5.3">prioritization</tspan></text>
<text x="501.7" y="1309"><tspan x="501.7">Expert advice on</tspan><tspan x="501.7" dy="5.3">hNBS solutions to</tspan><tspan x="501.7" dy="5.3">fit CECs</tspan></text>
<text x="904" y="1309"><tspan x="904">SOTA report on</tspan><tspan x="904" dy="5.3">methods</tspan></text>
<text x="184.7" y="1504"><tspan x="184.7">List of Urban</tspan><tspan x="184.7" dy="5.3">Developers &amp;</tspan><tspan x="184.7" dy="5.3">Infrastructure</tspan><tspan x="184.7" dy="5.3">Companies</tspan><tspan x="184.7" dy="5.3">Participans to WG</tspan></text>
<text x="477.4" y="1504"><tspan x="477.4">Expert advice on</tspan><tspan x="477.4" dy="5.3">urban planning</tspan><tspan x="477.4" dy="5.3">and real estate</tspan><tspan x="477.4" dy="5.3">development</tspan></text>
<text x="888" y="1512"><tspan x="888">Formal</tspan><tspan x="888" dy="5.3">commitment to</tspan><tspan x="888" dy="5.3">support the</tspan><tspan x="888" dy="5.3">initiative</tspan></text>
</g>

<g class="br">
<path d="M147.5 92h-3v22h3"/>
<path d="M107 226h-3v21h3"/>
<path d="M550 217h-3v16h3"/>
<path d="M789.7 238h-3v34h3"/>
<path d="M480 392h-3v16h3"/>
<path d="M472 473h-3v16h3"/>
<path d="M493 587h-3v20h3"/>
<path d="M874 102h-3v16h3"/>
<path d="M1281 129h-3v21h3"/>
<path d="M1423 259h-3v19h3"/>
<path d="M1127 477h-3v17h3"/>
<path d="M887 673h-3v10.5h3"/>
<path d="M776 778h-3v24h3"/>
<path d="M1139 831.5h-3v19h3"/>
<path d="M1432 872h-3v21.6h3"/>
<path d="M350.5 1037h-3v23h3"/>
<path d="M744.6 1047h-3v22h3"/>
<path d="M756.7 1176h-3v23h3"/>
<path d="M533.7 1309h-3v16.5h3"/>
<path d="M988.9 1297h-3v22.4h3"/>
<path d="M452 1447h-3v15.6h3"/>
<path d="M859 1455h-3v10.6h3"/>
</g>
<g class="an">
<text x="147.5" y="98"><tspan x="147.5">Ranking of the</tspan><tspan x="147.5" dy="6">CEC topic in the</tspan><tspan x="147.5" dy="6">political agenda</tspan></text>
<text x="107" y="232.5"><tspan x="107">Quality of</tspan><tspan x="107" dy="6">interistitutional</tspan><tspan x="107" dy="6">collaboration</tspan></text>
<text x="550" y="224"><tspan x="550">Quality of assessment (Utility,</tspan><tspan x="550" dy="6">Coverage, Relevance)</tspan></text>
<text x="790" y="244"><tspan x="790">Level of</tspan><tspan x="790" dy="6">appropriateness</tspan><tspan x="790" dy="6">and readiness of</tspan><tspan x="790" dy="6">the CECs</tspan><tspan x="790" dy="6">detailed Mng plan</tspan></text>
<text x="480" y="399.5"><tspan x="480">CECs Selection</tspan><tspan x="480" dy="6">Suitability Level</tspan></text>
<text x="472" y="480.5"><tspan x="472">Representativity of risk</tspan><tspan x="472" dy="6">zone prioritization</tspan></text>
<text x="493" y="594.5"><tspan x="493">Level of matching of solutions with</tspan><tspan x="493" dy="6">CECs and risk zone maps</tspan></text>
<text x="874" y="108.5"><tspan x="874">Completeness of the outline PP</tspan><tspan x="874" dy="6">partnership agreement</tspan></text>
<text x="1281" y="136.5"><tspan x="1281">Pilot CECs Management</tspan><tspan x="1281" dy="6">Plan Readiness Index</tspan></text>
<text x="1423" y="266"><tspan x="1423">Level of implementation</tspan><tspan x="1423" dy="6">and adoption</tspan></text>
<text x="1127" y="484.5"><tspan x="1127">NBS Permitting Effectiveness</tspan><tspan x="1127" dy="6">level</tspan></text>
<text x="887" y="680">Funding adequacy</text>
<text x="776" y="785"><tspan x="776">Level of compliance of the</tspan><tspan x="776" dy="6">proposed Mng Plan with existing</tspan><tspan x="776" dy="6">regulations</tspan></text>
<text x="1139" y="838"><tspan x="1139">Level of representativeness and</tspan><tspan x="1139" dy="6">engagement of the communities involved</tspan></text>
<text x="1432" y="879"><tspan x="1432">Quality level of bottom-</tspan><tspan x="1432" dy="6">up feedback</tspan></text>
<text x="350.5" y="1044.5"><tspan x="350.5">Appropriateness of suggestions</tspan><tspan x="350.5" dy="6">on prioritization of CECs in</tspan><tspan x="350.5" dy="6">urban runoff</tspan></text>
<text x="744.6" y="1053.5"><tspan x="744.6">Degree to which the proposed</tspan><tspan x="744.6" dy="6">plan interferes with regional</tspan><tspan x="744.6" dy="6">HEALTH policies</tspan></text>
<text x="756.7" y="1182.5"><tspan x="756.7">Degree to which the</tspan><tspan x="756.7" dy="6">proposed plan interferes</tspan><tspan x="756.7" dy="6">with regional ENV policies</tspan></text>
<text x="533.7" y="1316"><tspan x="533.7">Appropriateness of suggestions on</tspan><tspan x="533.7" dy="6">hNBS solutions to fit CECs</tspan></text>
<text x="988.9" y="1303.5"><tspan x="988.9">Appropriateness &amp; completeness of</tspan><tspan x="988.9" dy="6">recommended monitoring</tspan><tspan x="988.9" dy="6">methodologies</tspan></text>
<text x="452" y="1453.5"><tspan x="452">Appropriateness of suggestions on urban</tspan><tspan x="452" dy="6">planning and real estate development</tspan></text>
<text x="859" y="1461.5">Level of private funding engagement</text>
</g>

<g class="d">
<path d="M110 124L83 109" marker-end="url(#v)"/>
<path d="M140 124L148 114"/>
<path d="M187 245L198 227" marker-end="url(#v)"/>
<path d="M157 250L147 244"/>
<path d="M620 245L614 234"/>
<path d="M649 245L668 233" marker-end="url(#v)"/>
<path d="M718 245L749 233" marker-end="url(#v)"/>
<path d="M719 256L786 248"/>
<path d="M157 356L140 350" marker-end="url(#v)"/>
<path d="M157 437L140 431" marker-end="url(#v)"/>
<path d="M157 547L140 539" marker-end="url(#v)"/>
<path d="M157 656L140 646" marker-end="url(#v)"/>
<path d="M157 746L140 737" marker-end="url(#v)"/>
<path d="M157 852L140 840" marker-end="url(#v)"/>
<path d="M482 353L505 347" marker-end="url(#v)"/>
<path d="M558 355L602 345" marker-end="url(#v)"/>
<path d="M477 384L484 392"/>
<path d="M482 434L505 430" marker-end="url(#v)"/>
<path d="M558 437L602 430" marker-end="url(#v)"/>
<path d="M476 465L481 473"/>
<path d="M486 543L505 531" marker-end="url(#v)"/>
<path d="M558 547L602 532" marker-end="url(#v)"/>
<path d="M486 575L495 587"/>
<path d="M872 135L924 132" marker-end="url(#v)"/>
<path d="M864 124L871 116"/>
<path d="M1372 152L1333 140"/>
<path d="M1398 144L1411 125" marker-end="url(#v)"/>
<path d="M1210 245L1233 233" marker-end="url(#v)"/>
<path d="M1413 244L1448 232" marker-end="url(#v)"/>
<path d="M1413 261L1420 262"/>
<path d="M1043 444L1066 434" marker-end="url(#v)"/>
<path d="M1124 447L1184 436" marker-end="url(#v)"/>
<path d="M1124 473L1130 478"/>
<path d="M860 656L895 644" marker-end="url(#v)"/>
<path d="M860 674L884 676"/>
<path d="M778 743L810 730" marker-end="url(#v)"/>
<path d="M778 774L786 778"/>
<path d="M1014 848L1033 834" marker-end="url(#v)"/>
<path d="M1124 849L1136 843"/>
<path d="M1413 851L1448 838" marker-end="url(#v)"/>
<path d="M1413 869L1429 875"/>
<path d="M148 1008L140 1002" marker-end="url(#v)"/>
<path d="M315 1010L351 1000" marker-end="url(#v)"/>
<path d="M315 1030L347 1040"/>
<path d="M715 1008L745 1000" marker-end="url(#v)"/>
<path d="M715 1030L741 1040"/>
<path d="M173 1175L140 1154" marker-end="url(#v)"/>
<path d="M728 1171L757 1133" marker-end="url(#v)"/>
<path d="M739 1185L753 1184"/>
<path d="M197 1320L143 1294" marker-end="url(#v)"/>
<path d="M339.6 1320L363 1302" marker-end="url(#v)"/>
<path d="M481.6 1320L509 1300" marker-end="url(#v)"/>
<path d="M481.6 1330L530 1321"/>
<path d="M933 1320L912 1302" marker-end="url(#v)"/>
<path d="M974 1320L986 1313"/>
<path d="M226 1503L197 1493" marker-end="url(#v)"/>
<path d="M449 1505L485 1493" marker-end="url(#v)"/>
<path d="M440 1500L462 1462"/>
<path d="M860 1505L895 1500" marker-end="url(#v)"/>
<path d="M853 1500L870 1466"/>
</g>
</svg>
</body></html>
